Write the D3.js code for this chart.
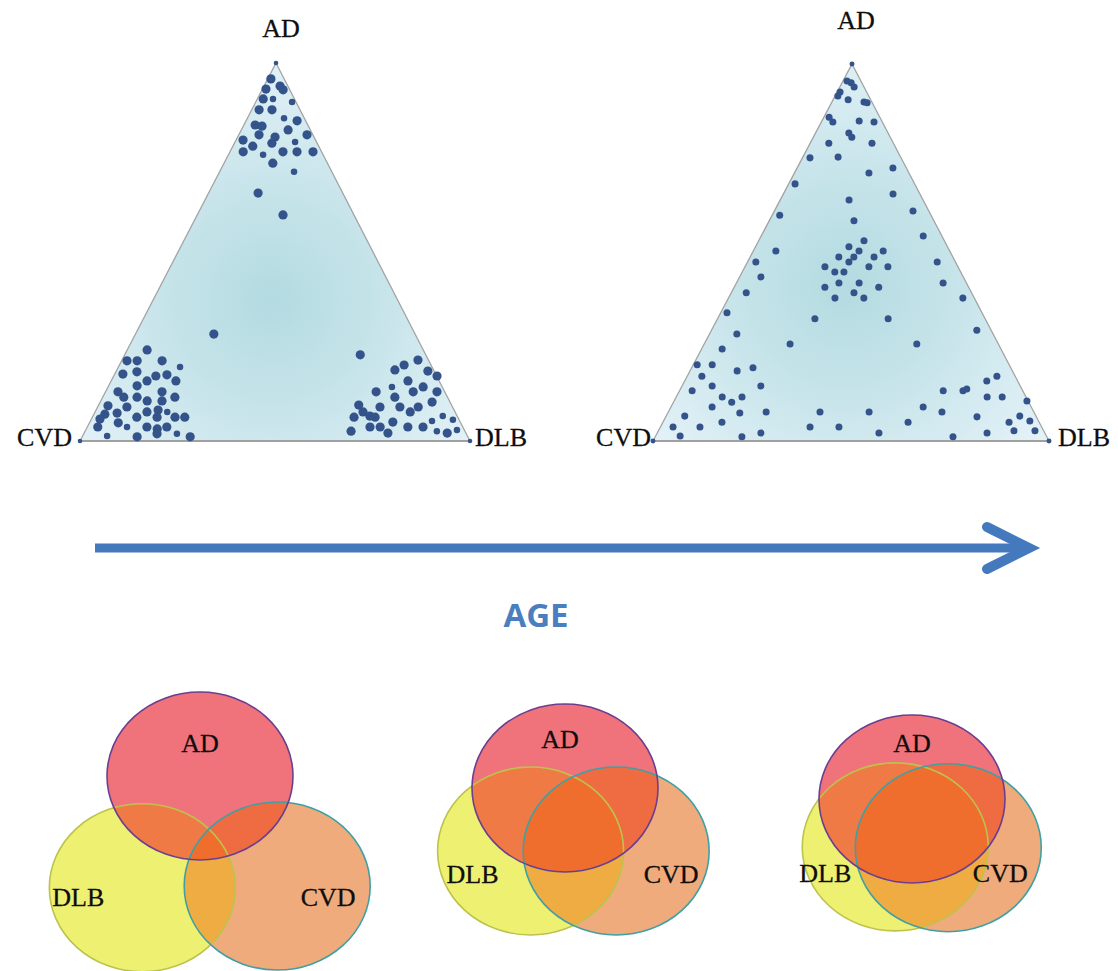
<!DOCTYPE html>
<html><head><meta charset="utf-8">
<script src="https://cdn.jsdelivr.net/npm/d3@7"></script>
<style>body{margin:0;background:#fff}svg{display:block}</style>
</head><body>
<svg id="c" width="1118" height="971"></svg>
<script>
// ---------- DATA ----------
const vertexNames = ["AD", "DLB", "CVD"];
// Younger cohort: [AD %, DLB %, weight]  (CVD % = 100 - AD - DLB)
const youngPoints = [
 [100,0,0.5],
 [95.8,0.8,2],[93.9,4.1,2],[92.9,5.4,2],[93.1,0.9,2],[90.5,1.5,2],[90.5,4.0,1],[89.7,9.3,1],[87.6,1.9,2],[87.6,5.2,2],
 [85.4,9.4,1],[84.7,13.1,2],[83.6,2.9,2],[83.3,4.8,2],[82.3,12.0,2],[81.0,5.2,2],[81.0,17.5,2],[79.6,1.8,2],[80.4,9.6,2],
 [78.8,9.6,2],[79.1,15.4,1],[78.0,5.1,2],[76.5,3.4,2],[75.7,8.9,1],[76.5,13.6,2],[76.5,17.2,2],[76.5,21.3,2],[73.5,12.5,2],
 [71.2,19.1,1],[65.6,12.7,2],[59.8,22.0,2],[28.3,20.1,2],[22.8,60.4,2],
 [24.1,5.1,2],[21.2,1.4,2],[21.2,4.0,2],[21.2,10.4,2],[19.6,15.8,1],[17.7,2.1,2],[18.3,5.4,2],[15.9,9.2,2],
 [17.2,10.8,2],[17.5,13.5,2],[15.9,16.6,2],[14.6,7.3,2],[13.0,14.5,2],[13.0,3.2,2],[11.6,5.4,2],[11.6,8.8,2],[10.6,11.9,2],
 [10.6,15.7,2],[11.6,18.5,2],[9.3,2.5,2],[9.0,7.5,2],[7.7,13.3,2],[8.2,15.9,2],[7.7,18.5,1],[7.1,2.8,2],[7.4,5.8,2],
 [6.3,11.4,2],[6.3,16.6,2],[6.3,21.2,2],[6.3,23.7,2],[5.8,2.2,2],[4.8,7.4,2],[3.7,10.2,1],[3.7,2.7,2],[3.7,15.3,2],
 [3.2,18.2,2],[3.7,20.4,2],[1.3,6.3,1],[1.1,14.1,2],[1.9,18.8,2],[1.9,23.9,1],[1.1,27.7,2],[0,0,0.5],
 [21.4,75.9,2],[20.1,73.0,2],[18.8,71.3,2],[18.5,79.9,2],[17.2,82.9,2],[15.9,76.1,2],[14.3,72.8,1],[14.3,80.8,2],
 [13.0,69.4,2],[13.0,78.9,2],[13.0,85.0,2],[11.6,74.9,2],[10.3,85.1,2],[9.0,72.4,2],[9.0,77.5,2],[9.0,82.2,2],[9.5,66.7,2],
 [7.7,68.7,2],[7.7,80.8,2],[6.6,71.0,2],[6.3,72.5,2],[6.3,67.1,2],[5.0,77.7,2],[6.6,89.7,1],[5.6,92.8,1],[3.7,72.5,2],
 [3.7,75.1,2],[3.7,82.2,2],[3.7,86.1,2],[5.3,87.6,1],[2.6,68.2,2],[2.1,77.9,2],[2.6,90.2,1],[2.1,93.1,2],[2.9,95.2,1],[0,100,0.5]
];
// Older cohort: [AD %, DLB %, weight]
const oldPoints = [
 [100,0,0.5],[95.5,1.0,1],[95.0,2.3,1],[93.9,3.6,1],[92.6,0.7,1],[91.5,0.7,1],[90.5,3.8,1],[89.9,8.1,1],[89.7,9.0,1],
 [85.9,1.3,1],[84.6,2.9,1],[84.9,9.4,1],[84.6,13.3,1],[81.7,8.4,1],[80.6,9.7,1],[79.0,4.7,1],[79.0,15.6,1],[75.1,1.9,1],
 [75.3,8.9,1],[71.1,18.8,1],[72.4,24.2,1],[68.2,1.6,1],[63.9,17.4,1],[65.5,27.7,1],[59.9,1.9,1],[61.0,35.0,1],[58.4,21.4,1],
 [54.4,40.9,1],[53.1,26.6,1],[51.5,23.6,1],[50.4,26.7,1],[50.4,32.8,1],[50.4,5.7,1],[48.8,22.4,1],[48.8,26.2,1],[48.8,31.3,1],
 [47.5,25.6,1],[47.5,2.1,1],[47.5,47.9,1],[46.2,20.2,1],[46.2,31.3,1],[46.2,36.1,1],[44.8,23.4,1],[44.8,25.7,1],[43.5,5.4,1],
 [41.9,25.9,1],[41.9,31.0,1],[41.9,52.2,1],[40.8,22.9,1],[40.8,36.5,1],[39.3,3.8,1],[39.3,31.0,1],[37.9,26.9,1],[37.9,34.2,1],
 [37.9,59.2,1],[34.0,1.6,1],[32.4,24.6,1],[32.4,43.1,1],[29.4,67.0,1],[28.4,6.9,1],[25.7,21.7,1],[25.7,53.7,1],[24.4,5.2,1],
 [20.2,1.0,1],[20.2,4.8,1],[17.2,3.7,1],[18.6,11.9,1],[19.4,15.5,1],[14.6,7.6,1],[14.6,19.9,1],[13.3,3.2,1],[11.7,11.6,1],
 [10.3,14.7,1],[11.7,16.6,1],[9.0,10.4,1],[7.4,18.2,1],[7.7,24.7,1],[7.7,38.3,1],[6.6,4.7,1],[5.0,14.9,1],[3.7,3.2,1],
 [3.7,10.0,1],[3.7,37.8,1],[3.7,45.1,1],[1.3,6.2,1],[1.1,21.9,1],[2.1,26.2,1],[0,0,0.5],
 [17.2,78.2,1],[15.9,76.3,1],[13.3,66.6,1],[13.3,71.6,1],[13.8,72.3,1],[11.7,78.5,1],[11.7,82.3,1],[10.6,89.1,1],
 [7.7,50.7,1],[9.0,63.7,1],[7.7,69.1,1],[6.4,78.6,1],[6.6,89.3,1],[5.0,87.4,1],[5.3,92.5,1],[5.0,61.9,1],[2.1,56.0,1],
 [1.1,75.2,1],[2.1,83.3,1],[2.7,89.8,1],[2.7,95.1,1],[0,100,0.5]
];
// Venn stages (increasing age): offsets of DLB / CVD set centres from the AD set centre, in set radii
const vennStages = ["early", "middle", "late"];
const dlbOffset = [[-0.62, 1.33], [-0.37, 0.75], [-0.18, 0.57]];
const cvdOffset = [[0.83, 1.31], [0.55, 0.75], [0.39, 0.58]];
const arrowLabel = "AGE";

// ---------- LAYOUT ----------
const svg = d3.select("#c");
const defs = svg.append("defs");
const serif = "'Liberation Serif','Times New Roman',serif";
const dotColor = "#33538a";

const triangles = [
  {id: "young", pts: youngPoints, A: [276, 63], C: [80, 441], D: [470, 441], grad: [272, 300], rmul: 1,
   lab: {AD: [281, 37], CVD: [72, 446], DLB: [475, 446]}},
  {id: "old", pts: oldPoints, A: [852, 64], C: [653, 441], D: [1049, 441], grad: [845, 285], rmul: 1.08,
   lab: {AD: [856, 29], CVD: [651, 446], DLB: [1058, 446]}}
];
const rScale = d3.scaleSqrt().domain([0, 2]).range([0, 4.6]);

triangles.forEach(t => {
  const gr = defs.append("radialGradient").attr("id", "g-" + t.id)
    .attr("gradientUnits", "userSpaceOnUse").attr("cx", t.grad[0]).attr("cy", t.grad[1]).attr("r", 250);
  [[0, "#b3dbe1"], [0.4, "#c4e3e9"], [0.75, "#d7ecf2"], [1, "#e4f2f8"]].forEach(s =>
    gr.append("stop").attr("offset", s[0]).attr("stop-color", s[1]));

  // ternary scales
  const yAD = d3.scaleLinear().domain([0, 100]).range([t.C[1], t.A[1]]);
  const xAD = d3.scaleLinear().domain([0, 100]).range([0, t.A[0] - t.C[0]]);
  const xDLB = d3.scaleLinear().domain([0, 100]).range([0, t.D[0] - t.C[0]]);
  const px = d => t.C[0] + xAD(d[0]) + xDLB(d[1]);
  const py = d => yAD(d[0]);

  const g = svg.append("g");
  g.append("path").attr("d", d3.line()([t.A, t.D, t.C]) + "Z")
    .attr("fill", `url(#g-${t.id})`).attr("stroke", "#a3a3a3").attr("stroke-width", 1.3);
  g.append("line").attr("x1", t.C[0]).attr("x2", t.D[0]).attr("y1", t.C[1]).attr("y2", t.D[1])
    .attr("stroke", "#a0a0a0").attr("stroke-width", 2.2);

  g.selectAll("circle.pt").data(t.pts).join("circle").attr("class", "pt")
    .attr("cx", px).attr("cy", py).attr("r", d => rScale(d[2]) * t.rmul)
    .attr("fill", dotColor);

  const L = t.lab;
  g.append("text").text(vertexNames[0]).attr("x", L.AD[0]).attr("y", L.AD[1]).attr("text-anchor", "middle");
  g.append("text").text(vertexNames[2]).attr("x", L.CVD[0]).attr("y", L.CVD[1]).attr("text-anchor", "end");
  g.append("text").text(vertexNames[1]).attr("x", L.DLB[0]).attr("y", L.DLB[1]).attr("text-anchor", "start");
  g.selectAll("text").attr("font-family", serif).attr("font-size", 26).attr("fill", "#0e0e0e")
    .attr("stroke", "#0e0e0e").attr("stroke-width", 0.3);
});

// ---------- ARROW ----------
const arrowCol = "#4479be";
const ax = d3.scaleLinear().domain([0, 1]).range([95, 1029]);
svg.append("line").attr("x1", ax(0)).attr("x2", ax(1) - 6).attr("y1", 548).attr("y2", 548)
  .attr("stroke", arrowCol).attr("stroke-width", 9);
svg.append("path").attr("d", d3.line()([[ax(1) - 42, 527], [ax(1), 548], [ax(1) - 42, 569]]))
  .attr("fill", "none").attr("stroke", arrowCol).attr("stroke-width", 10)
  .attr("stroke-linecap", "round").attr("stroke-linejoin", "miter");
svg.append("text").text(arrowLabel).attr("x", 536).attr("y", 627).attr("text-anchor", "middle")
  .attr("font-family", "'Open Sans',sans-serif").attr("font-weight", 700).attr("font-size", 33)
  .attr("fill", "#4a7ebf");

// ---------- VENN ----------
const RX = 93, RY = 84;
const adCentre = [[200, 776], [565, 788], [912, 799]];
const vennLabelOff = {AD: [[0, -24], [-5, -40], [0, -47]], DLB: [[-64, 18], [-58, 32], [-70, 35]], CVD: [[51, 20], [55, 32], [52, 34]]};
const fills = {AD: "#f0737c", DLB: "#eef071", CVD: "#efab7b"};
const strokes = {AD: "#6a3f8f", DLB: "#bcc34c", CVD: "#3fa0a4"};
const pairFill = {"AD-DLB": "#f07a45", "AD-CVD": "#ef6b42", "DLB-CVD": "#efac42"};
const tripleFill = "#f06e2d";

vennStages.forEach((s, i) => {
  const c = {
    AD: adCentre[i],
    DLB: [adCentre[i][0] + dlbOffset[i][0] * RX, adCentre[i][1] + dlbOffset[i][1] * RY],
    CVD: [adCentre[i][0] + cvdOffset[i][0] * RX, adCentre[i][1] + cvdOffset[i][1] * RY]
  };
  const keys = ["AD", "DLB", "CVD"];
  keys.forEach(k => defs.append("clipPath").attr("id", `v${i}${k}`).append("ellipse")
    .attr("cx", c[k][0]).attr("cy", c[k][1]).attr("rx", RX).attr("ry", RY));
  const g = svg.append("g");
  const ell = (sel, k) => sel.append("ellipse").attr("cx", c[k][0]).attr("cy", c[k][1]).attr("rx", RX).attr("ry", RY);
  keys.forEach(k => ell(g, k).attr("fill", fills[k]));
  [["AD", "DLB"], ["AD", "CVD"], ["DLB", "CVD"]].forEach(([a, b]) =>
    ell(g.append("g").attr("clip-path", `url(#v${i}${a})`), b).attr("fill", pairFill[a + "-" + b]));
  ell(g.append("g").attr("clip-path", `url(#v${i}AD)`).append("g").attr("clip-path", `url(#v${i}DLB)`), "CVD")
    .attr("fill", tripleFill);
  ["DLB", "CVD", "AD"].forEach(k => ell(g, k).attr("fill", "none").attr("stroke", strokes[k]).attr("stroke-width", 1.6));
  keys.forEach(k => {
    const o = vennLabelOff[k][i];
    g.append("text").text(k).attr("x", c[k][0] + o[0]).attr("y", c[k][1] + o[1]).attr("text-anchor", "middle")
      .attr("font-family", serif).attr("font-size", 26).attr("fill", "#0e0e0e")
      .attr("stroke", "#0e0e0e").attr("stroke-width", 0.3);
  });
});
</script>
</body></html>
